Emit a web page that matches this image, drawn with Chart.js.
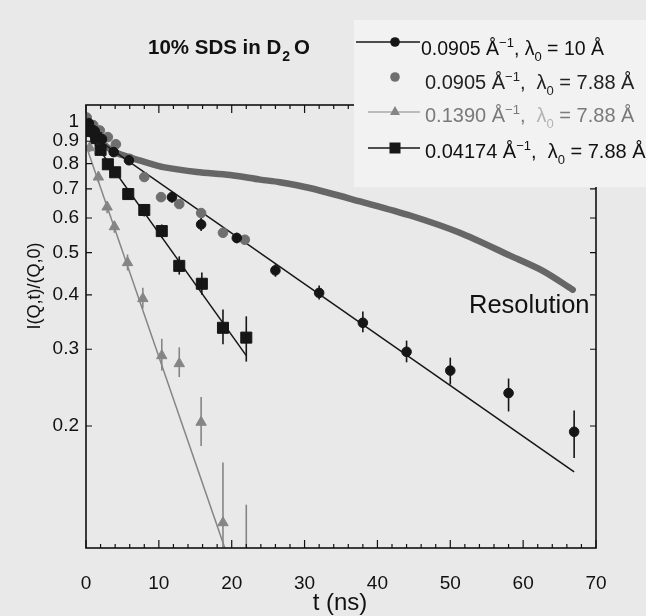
<!DOCTYPE html>
<html>
<head>
<meta charset="utf-8">
<title>10% SDS in D2O</title>
<script src="https://cdn.jsdelivr.net/npm/chart.js"></script>
<style>
  html, body { margin: 0; padding: 0; background: #e9e9e9; }
  #wrap { width: 646px; height: 616px; }
</style>
</head>
<body>
<div id="wrap"><canvas id="myChart" width="646" height="616"></canvas></div>
<script>
// tick labels
var yTicks = [1, 0.9, 0.8, 0.7, 0.6, 0.5, 0.4, 0.3, 0.2];
var xTicks = [0, 10, 20, 30, 40, 50, 60, 70];

// resolution curve (thick grey band)
var tRes = [0.3, 1, 2, 3, 4.3, 6, 8.8, 10.6, 15.2, 19.8, 23.9, 26.6, 30.7, 37.6, 44.5, 51.3, 58.2, 62.7, 66.8];
var vRes = [0.98, 0.95, 0.9, 0.87, 0.845, 0.827, 0.80, 0.785, 0.765, 0.753, 0.735, 0.725, 0.703, 0.655, 0.608, 0.555, 0.492, 0.454, 0.411];

// 0.0905 A^-1, lambda0 = 10 A  (black circles)
var t1 = [0.4, 1.2, 2.2, 3.8, 5.9, 11.8, 15.8, 20.7, 26, 32, 38, 44, 50, 58, 67];
var v1 = [0.99, 0.95, 0.91, 0.85, 0.814, 0.67, 0.58, 0.54, 0.455, 0.404, 0.345, 0.296, 0.268, 0.238, 0.194];
var lo1 = [0.97, 0.93, 0.89, 0.83, 0.795, 0.65, 0.56, 0.525, 0.44, 0.39, 0.328, 0.28, 0.249, 0.216, 0.169];
var hi1 = [1.01, 0.97, 0.93, 0.87, 0.83, 0.69, 0.60, 0.555, 0.47, 0.42, 0.366, 0.314, 0.287, 0.257, 0.217];
var fit1T = [0, 67];
var fit1V = [0.947, 0.157];

// 0.0905 A^-1, lambda0 = 7.88 A  (grey circles)
var t2 = [0.1, 1, 1.9, 3, 4.1, 6, 8, 10.3, 12.8, 15.8, 18.8, 21.8];
var v2 = [1.02, 0.98, 0.953, 0.92, 0.886, 0.82, 0.745, 0.67, 0.646, 0.616, 0.555, 0.535];

// 0.1390 A^-1, lambda0 = 7.88 A  (grey triangles)
var t3 = [0.5, 1.7, 2.9, 3.9, 5.7, 7.8, 10.4, 12.8, 15.8, 18.8, 22];
var v3 = [0.87, 0.745, 0.636, 0.573, 0.474, 0.392, 0.29, 0.278, 0.204, 0.12, 0.09];
var lo3 = [0.85, 0.725, 0.615, 0.555, 0.455, 0.372, 0.268, 0.259, 0.18, 0.09, 0.08];
var hi3 = [0.89, 0.765, 0.655, 0.59, 0.495, 0.415, 0.317, 0.303, 0.233, 0.165, 0.132];
var fit3T = [0, 19.4];
var fit3V = [0.88, 0.101];

// 0.04174 A^-1, lambda0 = 7.88 A  (black squares)
var t4 = [0.5, 1.4, 2, 3, 4, 5.8, 8, 10.4, 12.8, 15.9, 18.8, 22];
var v4 = [0.95, 0.915, 0.86, 0.797, 0.764, 0.681, 0.626, 0.56, 0.466, 0.424, 0.336, 0.319];
var lo4 = [0.93, 0.895, 0.84, 0.78, 0.745, 0.665, 0.605, 0.54, 0.445, 0.40, 0.308, 0.281];
var hi4 = [0.97, 0.935, 0.88, 0.815, 0.785, 0.70, 0.645, 0.58, 0.49, 0.45, 0.37, 0.357];
var fit4T = [0, 22];
var fit4V = [0.95, 0.29];

var FONT = '"Liberation Sans", Arial, Helvetica, sans-serif';
var C_BLACK = '#161616', C_GREY = '#6f6f6f', C_TRI = '#858585';

function pts(ts, vs) {
  return ts.map(function(t, i) { return { x: t, y: vs[i] }; });
}

// error bars, drawn through the scales and clipped to the plot
var errorBars = {
  id: 'errorBars',
  afterDatasetsDraw: function(chart) {
    var ctx = chart.ctx, a = chart.chartArea;
    var xs = chart.scales.x, ys = chart.scales.y;
    var sets = [[t1, lo1, hi1, C_BLACK], [t3, lo3, hi3, C_TRI], [t4, lo4, hi4, C_BLACK]];
    ctx.save();
    ctx.beginPath();
    ctx.rect(a.left, a.top, a.right - a.left, a.bottom - a.top);
    ctx.clip();
    ctx.lineWidth = 1.6;
    sets.forEach(function(s) {
      ctx.strokeStyle = s[3];
      s[0].forEach(function(t, i) {
        var x = xs.getPixelForValue(t);
        ctx.beginPath();
        ctx.moveTo(x, ys.getPixelForValue(s[1][i]));
        ctx.lineTo(x, ys.getPixelForValue(s[2][i]));
        ctx.stroke();
      });
    });
    ctx.restore();
  }
};

function richText(ctx, x, y, parts, size) {
  parts.forEach(function(p) {
    var s = (p.sup || p.sub) ? Math.round(size * 0.66) : size;
    ctx.font = (p.bold ? 'bold ' : '') + s + 'px ' + FONT;
    ctx.fillStyle = p.c || '#111';
    var dy = p.sup ? -size * 0.42 : (p.sub ? size * 0.32 : 0);
    ctx.fillText(p.t, x, y + dy);
    x += ctx.measureText(p.t).width + (p.gap || 0);
  });
}

// frame, inward ticks, legend, titles
var decor = {
  id: 'decor',
  afterDraw: function(chart) {
    var ctx = chart.ctx, a = chart.chartArea;
    var xs = chart.scales.x, ys = chart.scales.y;
    ctx.save();
    ctx.strokeStyle = '#111';
    ctx.lineWidth = 1.6;
    ctx.strokeRect(a.left, a.top, a.right - a.left, a.bottom - a.top);
    ctx.lineWidth = 1.2;
    ctx.beginPath();
    for (var t = 0; t <= 70; t += 2) {
      var x = xs.getPixelForValue(t);
      var len = (t % 10 === 0) ? 8 : 4;
      ctx.moveTo(x, a.bottom); ctx.lineTo(x, a.bottom - len);
      ctx.moveTo(x, a.top); ctx.lineTo(x, a.top + len);
    }
    yTicks.forEach(function(v) {
      var y = ys.getPixelForValue(v);
      ctx.moveTo(a.left, y); ctx.lineTo(a.left + 6, y);
      ctx.moveTo(a.right, y); ctx.lineTo(a.right - 6, y);
    });
    ctx.stroke();

    // legend box
    ctx.fillStyle = '#f2f2f2';
    ctx.fillRect(354, 20, 292, 167);
    ctx.textBaseline = 'alphabetic';
    var lx0 = 356, lx1 = 420, mx = 395;
    // entry 1
    ctx.strokeStyle = C_BLACK; ctx.lineWidth = 1.4;
    ctx.beginPath(); ctx.moveTo(lx0, 42); ctx.lineTo(lx1, 42); ctx.stroke();
    ctx.fillStyle = C_BLACK;
    ctx.beginPath(); ctx.arc(mx, 42, 4.8, 0, Math.PI * 2); ctx.fill();
    richText(ctx, 421, 55, [{t: '0.0905 Å'}, {t: '−1', sup: 1}, {t: ', λ'}, {t: '0', sub: 1}, {t: ' = 10 Å'}], 19.5);
    // entry 2
    ctx.fillStyle = C_GREY;
    ctx.beginPath(); ctx.arc(mx, 77, 4.8, 0, Math.PI * 2); ctx.fill();
    richText(ctx, 425, 89, [{t: '0.0905 Å', c: '#222'}, {t: '−1', sup: 1, c: '#222'}, {t: ',  λ', c: '#222'}, {t: '0', sub: 1, c: '#222'}, {t: ' = 7.88 Å', c: '#222'}], 20);
    // entry 3
    ctx.strokeStyle = C_TRI; ctx.lineWidth = 1.2;
    ctx.beginPath(); ctx.moveTo(368, 112); ctx.lineTo(lx1, 112); ctx.stroke();
    ctx.fillStyle = C_TRI;
    ctx.beginPath(); ctx.moveTo(mx, 106); ctx.lineTo(mx + 5, 115); ctx.lineTo(mx - 5, 115); ctx.closePath(); ctx.fill();
    richText(ctx, 425, 122, [{t: '0.1390 Å', c: '#7a7a7a'}, {t: '−1', sup: 1, c: '#7a7a7a'}, {t: ',  ', c: '#7a7a7a'}, {t: 'λ', c: '#b4b4b4'}, {t: '0', sub: 1, c: '#b4b4b4'}, {t: ' = 7.88 Å', c: '#7a7a7a'}], 20);
    // entry 4
    ctx.strokeStyle = C_BLACK; ctx.lineWidth = 1.4;
    ctx.beginPath(); ctx.moveTo(368, 148); ctx.lineTo(lx1, 148); ctx.stroke();
    ctx.fillStyle = C_BLACK;
    ctx.fillRect(mx - 5.5, 142.5, 11, 11);
    richText(ctx, 425, 158, [{t: '0.04174 Å'}, {t: '−1', sup: 1}, {t: ',  λ'}, {t: '0', sub: 1}, {t: ' = 7.88 Å'}], 20);

    // title
    richText(ctx, 148, 54, [{t: '10% SDS in D', bold: 1, gap: 1}, {t: '2', bold: 1, sub: 1, gap: 4}, {t: 'O', bold: 1}], 20.5);

    // Resolution label
    ctx.fillStyle = '#111';
    ctx.font = '25.5px ' + FONT;
    ctx.fillText('Resolution', 469, 313);

    // axis titles
    ctx.textAlign = 'center';
    ctx.font = '24px ' + FONT;
    ctx.fillText('t (ns)', 340, 610);
    ctx.save();
    ctx.translate(40, 286);
    ctx.rotate(-Math.PI / 2);
    ctx.font = '18px ' + FONT;
    ctx.fillText('I(Q,t)/(Q,0)', 0, 0);
    ctx.restore();
    ctx.restore();
  }
};

var ctx = document.getElementById('myChart').getContext('2d');
var chart = new Chart(ctx, {
  type: 'scatter',
  data: {
    datasets: [
      { label: 'Resolution', data: pts(tRes, vRes), showLine: true, borderColor: '#666666', borderWidth: 6.5,
        pointRadius: 0, order: 10, tension: 0.3, borderCapStyle: 'round' },
      { label: 'fit 1', data: pts(fit1T, fit1V), showLine: true, borderColor: C_BLACK, borderWidth: 1.5, pointRadius: 0, order: 5 },
      { label: 'fit 3', data: pts(fit3T, fit3V), showLine: true, borderColor: C_TRI, borderWidth: 1.5, pointRadius: 0, order: 5 },
      { label: 'fit 4', data: pts(fit4T, fit4V), showLine: true, borderColor: C_BLACK, borderWidth: 1.5, pointRadius: 0, order: 5 },
      { label: '0.0905, 7.88', data: pts(t2, v2), backgroundColor: C_GREY, borderColor: C_GREY,
        pointStyle: 'circle', pointRadius: 4.8, order: 3 },
      { label: '0.1390, 7.88', data: pts(t3, v3), backgroundColor: C_TRI, borderColor: C_TRI,
        pointStyle: 'triangle', pointRadius: 6, order: 2 },
      { label: '0.04174, 7.88', data: pts(t4, v4), backgroundColor: C_BLACK, borderColor: C_BLACK,
        pointStyle: 'rect', pointRadius: 7.8, order: 2 },
      { label: '0.0905, 10', data: pts(t1, v1), backgroundColor: C_BLACK, borderColor: C_BLACK,
        pointStyle: 'circle', pointRadius: 4.8, order: 1 }
    ]
  },
  options: {
    responsive: false,
    animation: false,
    layout: { padding: { top: 105, right: 50, left: 0, bottom: 0 } },
    plugins: { legend: { display: false }, tooltip: { enabled: false } },
    scales: {
      x: {
        type: 'linear', min: 0, max: 70,
        afterFit: function(s) { s.height = 68; },
        afterBuildTicks: function(s) { s.ticks = xTicks.map(function(v) { return { value: v }; }); },
        grid: { display: false, drawTicks: false },
        border: { display: false },
        ticks: { color: '#111', padding: 24, font: { size: 19, family: FONT }, maxRotation: 0 }
      },
      y: {
        type: 'logarithmic', min: 0.105, max: 1.09,
        afterFit: function(s) { s.width = 86; },
        afterBuildTicks: function(s) { s.ticks = yTicks.map(function(v) { return { value: v }; }); },
        grid: { display: false, drawTicks: false },
        border: { display: false },
        ticks: { color: '#111', padding: 7, font: { size: 19, family: FONT },
                 callback: function(v) { return String(v); } }
      }
    }
  },
  plugins: [errorBars, decor]
});
</script>
</body>
</html>
